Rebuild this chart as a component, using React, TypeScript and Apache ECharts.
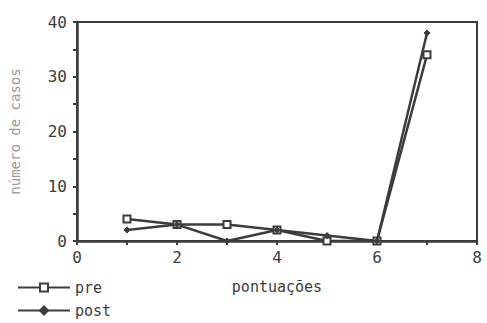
import React, { useEffect, useRef } from "react";
import * as echarts from "echarts";

const xValues = [1, 2, 3, 4, 5, 6, 7];
const preValues = [4, 3, 3, 2, 0, 0, 34];
const postValues = [2, 3, 0, 2, 1, 0, 38];
const seriesNames = ["pre", "post"];
const xAxisTitle = "pontuações";
const yAxisTitle = "número de casos";

const INK = "#3c3c3c";
const FONT = "'DejaVu Sans Mono', monospace";

export default function App() {
  const ref = useRef<HTMLDivElement>(null);
  useEffect(() => {
    const chart = echarts.init(ref.current!, null, { renderer: "svg" });
    const legendBase = {
      orient: "horizontal",
      left: 12,
      itemWidth: 52,
      itemHeight: 10,
      textStyle: { color: INK, fontSize: 15, fontFamily: FONT },
    };
    chart.setOption({
      animation: false,
      backgroundColor: "#ffffff",
      grid: {
        left: 75,
        right: 10,
        top: 22,
        height: 219,
        show: true,
        borderColor: INK,
        borderWidth: 2,
      },
      legend: [
        { ...legendBase, top: 275, data: [seriesNames[0]] },
        { ...legendBase, top: 298, data: [seriesNames[1]] },
      ],
      xAxis: {
        type: "value",
        min: 0,
        max: 8,
        interval: 1,
        name: xAxisTitle,
        nameLocation: "middle",
        nameGap: 38,
        nameTextStyle: { color: INK, fontSize: 15, fontFamily: FONT },
        axisLine: { show: true, lineStyle: { color: INK, width: 2.5 } },
        axisTick: { show: true, inside: false, length: 4, lineStyle: { color: INK, width: 2 } },
        axisLabel: {
          color: INK,
          fontSize: 16,
          fontFamily: FONT,
          margin: 8,
          formatter: (v: number) => (v % 2 === 0 ? String(v) : ""),
        },
        splitLine: { show: false },
      },
      yAxis: {
        type: "value",
        min: 0,
        max: 40,
        interval: 10,
        name: yAxisTitle,
        nameLocation: "middle",
        nameRotate: 90,
        nameGap: 55,
        nameTextStyle: { color: "#9a9a9a", fontSize: 14, fontFamily: FONT },
        axisLine: { show: true, lineStyle: { color: INK, width: 2.5 } },
        axisTick: { show: true, inside: false, length: 4, lineStyle: { color: INK, width: 2 } },
        minorTick: { show: true, splitNumber: 2, length: 4, lineStyle: { color: INK, width: 2 } },
        axisLabel: { color: INK, fontSize: 16, fontFamily: FONT, margin: 10 },
        splitLine: { show: false },
      },
      series: [
        {
          name: seriesNames[0],
          type: "line",
          data: xValues.map((x, i) => [x, preValues[i]]),
          symbol: "rect",
          symbolSize: 7,
          showAllSymbol: true,
          lineStyle: { color: INK, width: 2.5 },
          itemStyle: { color: "#ffffff", borderColor: INK, borderWidth: 2 },
        },
        {
          name: seriesNames[1],
          type: "line",
          data: xValues.map((x, i) => [x, postValues[i]]),
          symbol: "diamond",
          symbolSize: 6,
          showAllSymbol: true,
          lineStyle: { color: INK, width: 2.5 },
          itemStyle: { color: INK, borderColor: INK, borderWidth: 1 },
        },
      ],
    });
    return () => chart.dispose();
  }, []);
  return <div ref={ref} style={{ width: 487, height: 323, position: "absolute", left: 0, top: 0 }} />;
}
